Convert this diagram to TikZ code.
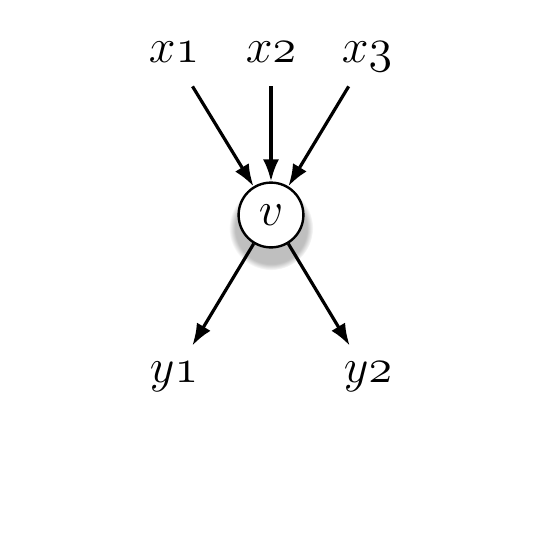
\documentclass[tikz,border=0pt]{standalone}
\usetikzlibrary{arrows.meta,shadows}
\begin{document}
\begin{tikzpicture}[x=0.25pt,y=-0.25pt,
  >={Latex[length=5.5pt,width=4pt]},
  link/.style={->,thick},
  term/.style={font=\fontsize{11.5}{13}\selectfont,text height=1.3ex,text depth=0.6ex,inner sep=3.3pt},
  unit/.style={circle,draw,line width=0.6pt,fill=white,minimum size=16.2pt,inner sep=0pt,
    font=\fontsize{12}{14}\selectfont,
    circular drop shadow={shadow xshift=0pt,shadow yshift=-2.5pt,shadow scale=1.3,opacity=0.5}}]
\useasboundingbox (0,0) rectangle (544,548);
%Inputs
\node[term] (x1) at (174,56) {$x\mathnormal{1}$};
\node[term] (x2) at (271,56) {$x\mathnormal{2}$};
\node[term] (x3) at (367,56) {$x\mathnormal{3}$};
%Neuron
\node[unit] (v) at (271,215) {$v$};
%Outputs
\node[term] (y1) at (174,376) {$y\mathnormal{1}$};
\node[term] (y2) at (368,376) {$y\mathnormal{2}$};
\draw[link] (x1) -- (v);
\draw[link] (x2) -- (v);
\draw[link] (x3) -- (v);
\draw[link] (v) -- (y1);
\draw[link] (v) -- (y2);
\end{tikzpicture}
\end{document}
